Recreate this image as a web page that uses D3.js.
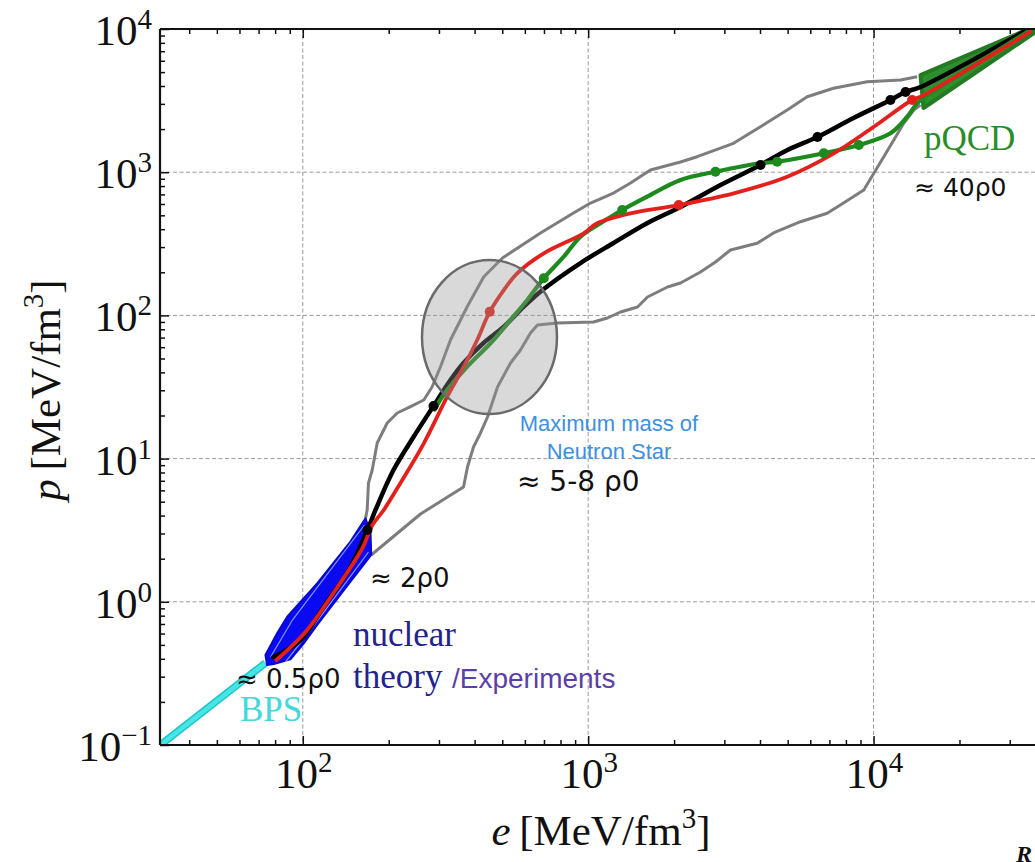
<!DOCTYPE html>
<html>
<head>
<meta charset="utf-8">
<script src="https://cdn.jsdelivr.net/npm/d3@7"></script>
<style>
    html, body { margin: 0; padding: 0; background: #fff; }
    svg { display: block; }
</style>
</head>
<body>
<svg id="chart" width="1035" height="862"></svg>
<script>
"use strict";

// energy density e (x) and pressure p (y), both in MeV/fm^3, log-log
const xMajorExponents = [2, 3, 4];
const yMajorExponents = [-1, 0, 1, 2, 3, 4];
const xMinorTicks = [40, 50, 60, 70, 80, 90, 200, 300, 400, 500, 600, 700, 800, 900,
    2000, 3000, 4000, 5000, 6000, 7000, 8000, 9000, 20000, 30000];
const yMinorTicks = [0.2, 0.3, 0.4, 0.5, 0.6, 0.7, 0.8, 0.9, 2, 3, 4, 5, 6, 7, 8, 9,
    20, 30, 40, 50, 60, 70, 80, 90, 200, 300, 400, 500, 600, 700, 800, 900,
    2000, 3000, 4000, 5000, 6000, 7000, 8000, 9000];

// BPS crust
const bpsE = [31.7, 74.0];
const bpsP = [0.1, 0.374];

// nuclear theory band (outline)
const nuclearE = [74.0, 81.3, 88.2, 112.3, 146.9, 165.9, 172.7, 173.7, 146.9, 112.3, 100.8, 90.5, 79.1, 75.0];
const nuclearP = [0.425, 0.603, 0.787, 1.346, 2.630, 3.828, 3.006, 2.123, 1.381, 0.689, 0.513, 0.396, 0.368, 0.362];
const nuclearInnerAE = [77.1, 92.0, 164.5];
const nuclearInnerAP = [0.412, 0.746, 3.438];
const nuclearInnerBE = [87.0, 106.4, 169.9];
const nuclearInnerBP = [0.380, 0.635, 2.227];

// pQCD band (outline)
const pqcdE = [14600, 36330, 36920, 14960];
const pqcdP = [4775, 10320, 9530, 2808];

// envelope of allowed EoSs
const grayUpperE = [165.9, 168.1, 169.9, 175.1, 182.3, 197.6, 214.2, 238.5, 265.5, 284.1, 303.7, 329.2, 376.7,
    430.8, 500.9, 680.6, 888.2, 1019, 1227, 1407, 1653, 2106, 2409, 3230, 4016, 4982, 5852, 7238, 9497, 12430, 14210];
const grayUpperP = [3.828, 4.377, 6.752, 8.325, 12.85, 17.73, 20.82, 23.04, 25.66, 31.77, 43.83, 67.33, 115.0,
    186.3, 251.7, 376.3, 518.9, 609.4, 715.7, 840.5, 1036, 1178, 1283, 1591, 2078, 2719, 3367, 3854, 4285, 4404, 4645];
const grayLowerE = [173.7, 258.5, 365.7, 377.7, 396.4, 419.5, 443.9, 481.2, 534.4, 579.2, 627.9, 664.3, 780.6,
    1044, 1168, 1298, 1489, 1614, 1896, 2106, 2475, 2793, 3152, 3910, 4460, 5545, 6878, 7844, 9241, 10020,
    10860, 11770, 12760, 13830, 14600];
const grayLowerP = [2.123, 4.104, 6.334, 8.737, 12.05, 15.10, 19.52, 31.62, 46.52, 57.33, 75.38, 85.70, 88.49,
    89.93, 95.9, 105.6, 114.5, 134.4, 157.9, 168.4, 201.0, 236.0, 286.2, 318.8, 376.3, 451.1, 516.4, 609.4, 751,
    982.4, 1283, 1678, 2195, 2719, 2946];

// sample equations of state
const blackE = [78.9, 98.2, 118.2, 146.9, 168.5, 179.8, 207.9, 244.3, 287.1, 329.2, 365.7, 429.8, 505.0, 593.5,
    691.7, 939.7, 1227, 1614, 2106, 2908, 4016, 4993, 6359, 8504, 11460, 12940, 14600, 35450];
const blackP = [0.412, 0.541, 0.920, 1.750, 3.173, 4.377, 8.325, 14.15, 23.30, 35.39, 46.52, 64.17, 82.99, 114.5,
    150.4, 232.2, 320.3, 441.9, 571.5, 814, 1123, 1429, 1762, 2390, 3194, 3632, 3936, 10160];
const redE = [80.9, 102.2, 130.2, 161.9, 175.5, 192.2, 219.9, 265.5, 320.6, 366.6, 408.4, 452.0, 506.2, 563.9,
    698.9, 965.2, 1075, 1407, 2077, 3238, 4982, 7254, 10020, 13650, 14600, 35450];
const redP = [0.392, 0.615, 1.209, 2.375, 3.438, 4.377, 6.752, 12.79, 27.05, 43.83, 67.33, 106.1, 150.4, 196.8,
    271.5, 374.5, 439.7, 516.4, 590.0, 712.4, 930.2, 1355, 2078, 3194, 3367, 9575];
const greenE = [290, 307.9, 376.7, 454.6, 534.4, 611.5, 698.9, 821.3, 939.7, 1104, 1316, 1609, 2106, 2793, 4016,
    4595, 6691, 8875, 11460, 13120, 14210, 15200, 35450];
const greenP = [22.0, 27.05, 43.83, 63.86, 92.9, 128.1, 181.6, 257.0, 354.4, 439.7, 544.5, 674.5, 882.2, 1008, 1154,
    1184, 1355, 1548, 1869, 2441, 3028, 3367, 9840];

const blackDotsE = [168.5, 287.1, 4016, 6359, 11460, 12940];
const blackDotsP = [3.173, 23.30, 1123, 1762, 3194, 3632];
const redDotsE = [452.0, 2077, 13650];
const redDotsP = [106.1, 590.0, 3194];
const greenDotsE = [698.9, 1316, 2793, 4595, 6691, 8875];
const greenDotsP = [181.6, 544.5, 1008, 1184, 1355, 1548];

// maximum-mass region
const maxMassE = 451;
const maxMassP = 70.6;

const SERIF = "'Liberation Serif', 'Times New Roman', serif";
const SANS = "'Liberation Sans', Arial, sans-serif";
const DEJAVU = "'DejaVu Sans', sans-serif";

function zip(es, ps) {
    return es.map((e, i) => [e, ps[i]]);
}

const svg = d3.select("#chart");
const plotLeft = 160, plotTop = 29, plotBottom = 745, plotRight = 1045.4;

const x = d3.scaleLog().domain([31.6, 40000]).range([plotLeft, plotRight]);
const y = d3.scaleLog().domain([0.1, 10000]).range([plotBottom, plotTop]);

svg.append("defs").append("clipPath").attr("id", "plot-clip")
    .append("rect")
    .attr("x", plotLeft).attr("y", plotTop)
    .attr("width", plotRight - plotLeft).attr("height", plotBottom - plotTop);

// grid
const xMajor = xMajorExponents.map(k => Math.pow(10, k));
const yMajor = yMajorExponents.map(k => Math.pow(10, k));
const grid = svg.append("g")
    .attr("stroke", "#9a9a9a")
    .attr("stroke-width", 1)
    .attr("stroke-dasharray", "4,2.5");
grid.selectAll("line.gx")
    .data(xMajor)
    .join("line")
    .attr("class", "gx")
    .attr("x1", d => x(d)).attr("x2", d => x(d))
    .attr("y1", plotTop).attr("y2", plotBottom);
grid.selectAll("line.gy")
    .data(yMajor.slice(1, -1))
    .join("line")
    .attr("class", "gy")
    .attr("x1", plotLeft).attr("x2", plotRight)
    .attr("y1", d => y(d)).attr("y2", d => y(d));

const plot = svg.append("g").attr("clip-path", "url(#plot-clip)");

const linear = d3.line().x(d => x(d[0])).y(d => y(d[1]));
const smooth = d3.line().x(d => x(d[0])).y(d => y(d[1])).curve(d3.curveCatmullRom.alpha(0.5));
const closed = d3.line().x(d => x(d[0])).y(d => y(d[1])).curve(d3.curveLinearClosed);

// envelope
for (const [es, ps] of [[grayUpperE, grayUpperP], [grayLowerE, grayLowerP]]) {
    plot.append("path")
        .attr("d", linear(zip(es, ps)))
        .attr("fill", "none").attr("stroke", "#7d7d7d").attr("stroke-width", 3)
        .attr("stroke-linejoin", "round");
}

// BPS
plot.append("path")
    .attr("d", linear(zip(bpsE, bpsP)))
    .attr("fill", "none").attr("stroke", "#1fc4c8").attr("stroke-width", 7.5);
plot.append("path")
    .attr("d", linear(zip(bpsE, bpsP)))
    .attr("fill", "none").attr("stroke", "#46e6e6").attr("stroke-width", 4.5);

// nuclear band
plot.append("path")
    .attr("d", closed(zip(nuclearE, nuclearP)))
    .attr("fill", "#0a0af2").attr("stroke", "#0707d0").attr("stroke-width", 2)
    .attr("stroke-linejoin", "round");
for (const [es, ps] of [[nuclearInnerAE, nuclearInnerAP], [nuclearInnerBE, nuclearInnerBP]]) {
    plot.append("path")
        .attr("d", linear(zip(es, ps)))
        .attr("fill", "none").attr("stroke", "#7f9bff").attr("stroke-width", 1.2);
}

// pQCD band
plot.append("path")
    .attr("d", closed(zip(pqcdE, pqcdP)))
    .attr("fill", "#2f8f2f").attr("stroke", "#237a23").attr("stroke-width", 4)
    .attr("stroke-linejoin", "round");

// EoS curves
const curves = [
    {e: blackE, p: blackP, color: "#000000", width: 4.5},
    {e: greenE, p: greenP, color: "#1c8a1c", width: 4.2},
    {e: redE, p: redP, color: "#e3201b", width: 3.8},
];
for (const c of curves) {
    plot.append("path")
        .attr("d", smooth(zip(c.e, c.p)))
        .attr("fill", "none")
        .attr("stroke", c.color)
        .attr("stroke-width", c.width)
        .attr("stroke-linecap", "round");
}

const dotSets = [
    {e: blackDotsE, p: blackDotsP, color: "#000000"},
    {e: greenDotsE, p: greenDotsP, color: "#1c8a1c"},
    {e: redDotsE, p: redDotsP, color: "#e3201b"},
];
for (const s of dotSets) {
    plot.selectAll(null)
        .data(zip(s.e, s.p))
        .join("circle")
        .attr("cx", d => x(d[0]))
        .attr("cy", d => y(d[1]))
        .attr("r", 5)
        .attr("fill", s.color);
}

// maximum mass region
plot.append("ellipse")
    .attr("cx", x(maxMassE))
    .attr("cy", y(maxMassP))
    .attr("rx", 67.5)
    .attr("ry", 77)
    .attr("fill", "rgba(150,150,150,0.36)")
    .attr("stroke", "#6a6a6a")
    .attr("stroke-width", 2.5);

// ticks
function ticks(axis, values, size) {
    return g => g.call(axis.tickValues(values).tickSize(-size).tickFormat(""))
        .call(g => g.select(".domain").remove())
        .call(g => g.selectAll(".tick line").attr("stroke", "#111").attr("stroke-width", 1.5));
}
svg.append("g").attr("transform", `translate(0,${plotBottom})`).call(ticks(d3.axisBottom(x), xMajor, 9));
svg.append("g").attr("transform", `translate(0,${plotBottom})`).call(ticks(d3.axisBottom(x), xMinorTicks, 5));
svg.append("g").attr("transform", `translate(0,${plotTop})`).call(ticks(d3.axisTop(x), xMajor, 9));
svg.append("g").attr("transform", `translate(0,${plotTop})`).call(ticks(d3.axisTop(x), xMinorTicks, 5));
svg.append("g").attr("transform", `translate(${plotLeft},0)`).call(ticks(d3.axisLeft(y), yMajor, 9));
svg.append("g").attr("transform", `translate(${plotLeft},0)`).call(ticks(d3.axisLeft(y), yMinorTicks, 5));

// spines
const spines = svg.append("g").attr("stroke", "#111").attr("stroke-width", 2.2);
spines.append("line").attr("x1", plotLeft).attr("x2", plotRight).attr("y1", plotBottom).attr("y2", plotBottom);
spines.append("line").attr("x1", plotLeft).attr("x2", plotRight).attr("y1", plotTop).attr("y2", plotTop);
spines.append("line").attr("x1", plotLeft).attr("x2", plotLeft).attr("y1", plotTop).attr("y2", plotBottom);

// tick labels
function powerLabel(sel, exponent) {
    sel.append("tspan").text("10");
    sel.append("tspan")
        .attr("dy", -16)
        .attr("font-size", 29)
        .text(exponent < 0 ? "\u2212" + Math.abs(exponent) : String(exponent));
}
svg.append("g").selectAll("text")
    .data(xMajorExponents)
    .join("text")
    .attr("x", d => x(Math.pow(10, d)) + 1)
    .attr("y", 788)
    .attr("text-anchor", "middle")
    .attr("font-family", SERIF)
    .attr("font-size", 43)
    .attr("fill", "#111")
    .each(function (d) { powerLabel(d3.select(this), d); });
svg.append("g").selectAll("text")
    .data(yMajorExponents)
    .join("text")
    .attr("x", 152)
    .attr("y", d => y(Math.pow(10, d)) + 16)
    .attr("text-anchor", "end")
    .attr("font-family", SERIF)
    .attr("font-size", 43)
    .attr("fill", "#111")
    .each(function (d) { powerLabel(d3.select(this), d); });

// axis titles
function unitTitle(sel, symbol) {
    sel.append("tspan").attr("font-style", "italic").text(symbol);
    sel.append("tspan").text("\u2009[MeV/fm");
    sel.append("tspan").attr("dy", -17).attr("font-size", 29).text("3");
    sel.append("tspan").attr("dy", 17).text("]");
}
svg.append("text")
    .attr("x", 601).attr("y", 845)
    .attr("text-anchor", "middle")
    .attr("font-family", SERIF).attr("font-size", 43).attr("fill", "#111")
    .call(s => unitTitle(s, "e"));
svg.append("text")
    .attr("transform", "translate(60,390) rotate(-90)")
    .attr("text-anchor", "middle")
    .attr("font-family", SERIF).attr("font-size", 43).attr("fill", "#111")
    .call(s => unitTitle(s, "p"));

// annotations
const notes = svg.append("g");
function note(text, px, py, family, size, color, anchor = "start") {
    return notes.append("text")
        .attr("x", px).attr("y", py)
        .attr("text-anchor", anchor)
        .attr("font-family", family)
        .attr("font-size", size)
        .attr("fill", color)
        .text(text);
}
note("\u2248 0.5\u03c10", 236, 688, DEJAVU, 26, "#111");
note("BPS", 240, 721, SERIF, 35, "#45d8da");
note("nuclear", 353, 646, SERIF, 35, "#23238c");
note("theory", 353, 688, SERIF, 35, "#23238c");
note("/Experiments", 452, 688, SANS, 28, "#5b3fa6");
note("\u2248 2\u03c10", 370, 587, DEJAVU, 26, "#111");
note("\u2248 5-8 \u03c10", 517, 491, DEJAVU, 28, "#111");
note("Maximum mass of", 609, 431, SANS, 22, "#3d8fe0", "middle");
note("Neutron Star", 609, 459, SANS, 22, "#3d8fe0", "middle");
note("\u2248 40\u03c10", 914, 196, DEJAVU, 25, "#111");
note("pQCD", 924, 150, SERIF, 35, "#2b8c2b");
note("R", 1016, 862, SERIF, 24, "#111")
    .attr("font-style", "italic").attr("font-weight", "bold");
</script>
</body>
</html>
